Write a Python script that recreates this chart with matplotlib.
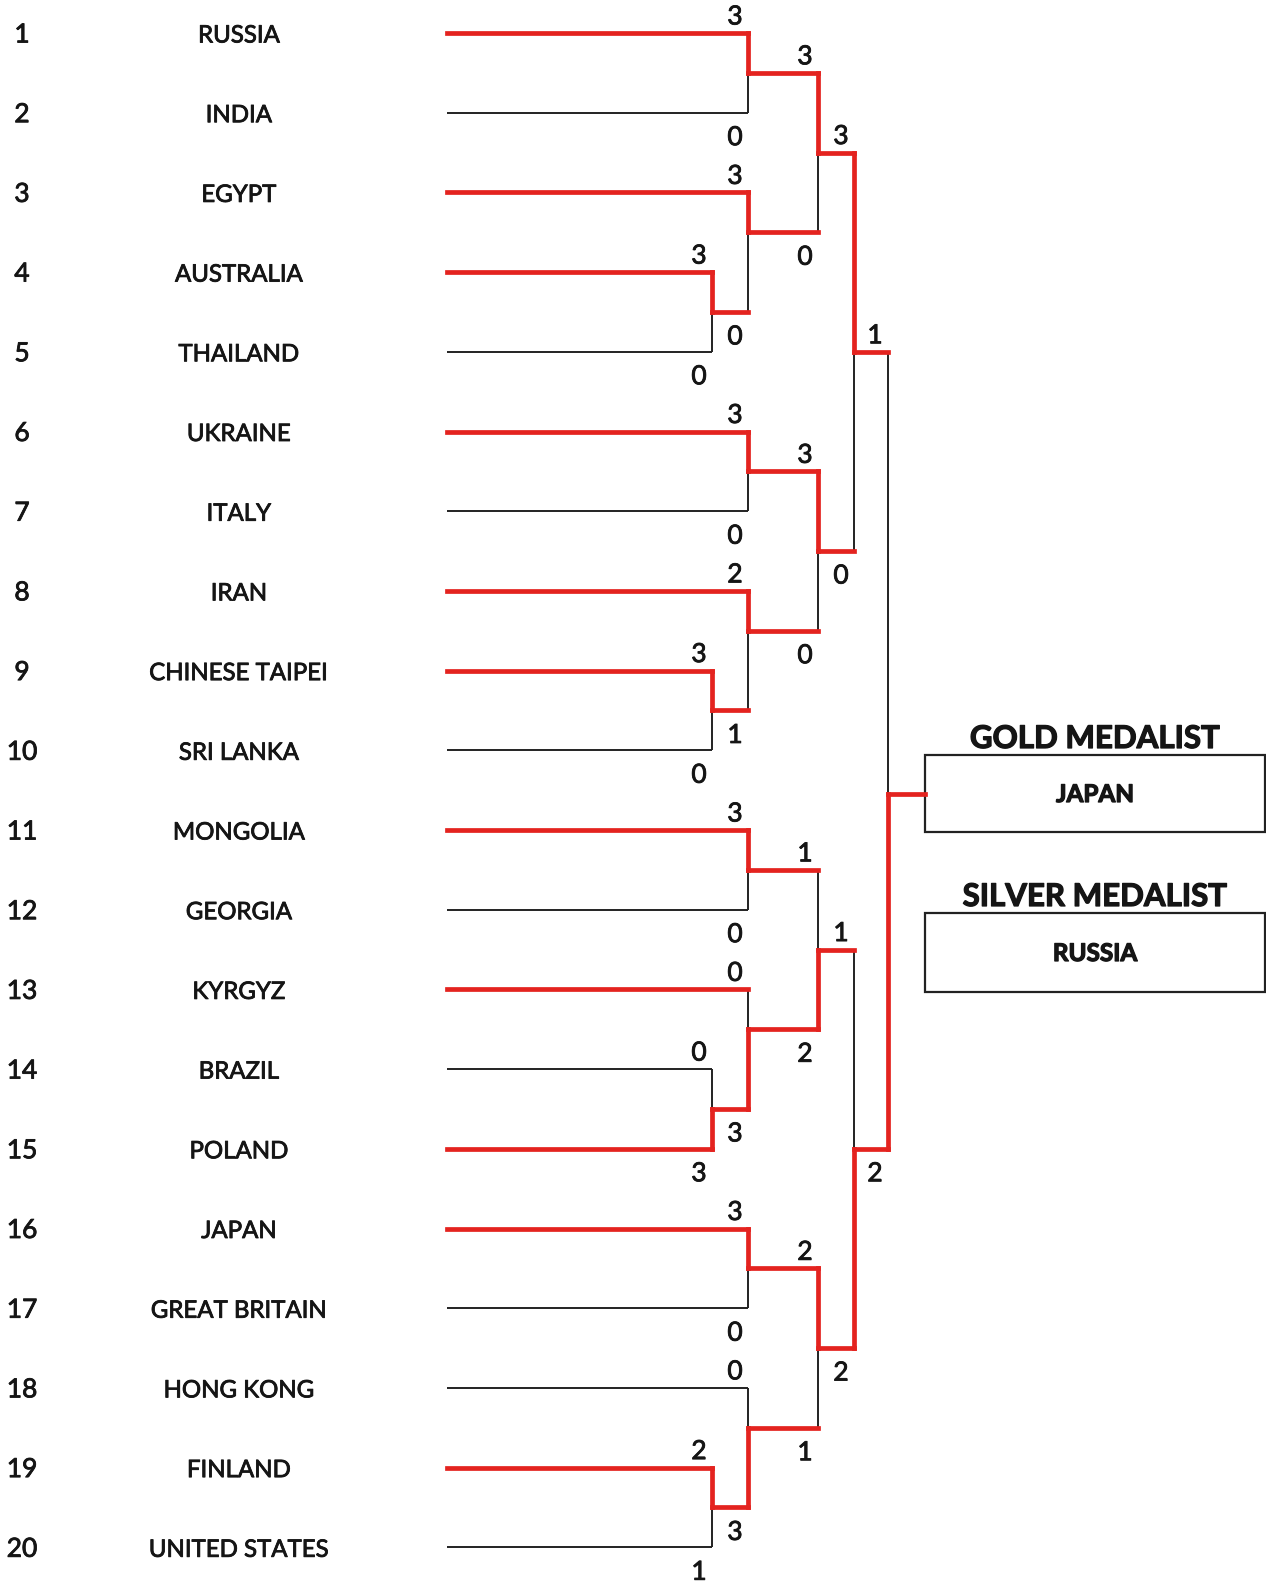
import matplotlib.pyplot as plt
import matplotlib.patheffects as pe

# bracket data
seeds = [1, 2, 3, 4, 5, 6, 7, 8, 9, 10, 11, 12, 13, 14, 15, 16, 17, 18, 19, 20]
teams = ["RUSSIA", "INDIA", "EGYPT", "AUSTRALIA", "THAILAND", "UKRAINE", "ITALY",
         "IRAN", "CHINESE TAIPEI", "SRI LANKA", "MONGOLIA", "GEORGIA", "KYRGYZ",
         "BRAZIL", "POLAND", "JAPAN", "GREAT BRITAIN", "HONG KONG", "FINLAND",
         "UNITED STATES"]

# matches: ints point at a seed, strings at an earlier match
match_ids = ["P1", "P2", "P3", "P4", "A", "B", "D", "E", "H", "I", "K", "L",
             "C", "F", "J", "M", "G", "N", "FINAL"]
match_round = [0, 0, 0, 0, 1, 1, 1, 1, 1, 1, 1, 1, 2, 2, 2, 2, 3, 3, 4]
match_top = [4, 9, 14, 19, 1, 3, 6, 8, 11, 13, 16, 18, "A", "D", "H", "K", "C", "J", "G"]
match_bottom = [5, 10, 15, 20, 2, "P1", 7, "P2", 12, "P3", 17, "P4", "B", "E", "I", "L", "F", "M", "N"]
score_top = [3, 3, 0, 2, 3, 3, 3, 2, 3, 0, 3, 0, 3, 3, 1, 2, 3, 1, 1]
score_bottom = [0, 0, 3, 1, 0, 0, 0, 1, 0, 3, 0, 3, 0, 0, 2, 1, 0, 2, 2]
extra_red = ["KYRGYZ"]  # drawn red in the original although it lost
gold = "JAPAN"
silver = "RUSSIA"

# layout (pixels)
W, H = 1266, 1582
row_y0, row_gap = 33, 79.7
x_num, x_name, x_line0 = 22, 239, 447
round_x = [712, 748, 818, 854, 888]
box_x0, box_x1 = 925, 1265
gold_box = (755, 832)
silver_box = (913, 992)
RED = "#e4231f"
INK = "#151515"
FONT = "Lato"
heavy = [pe.withStroke(linewidth=0.6, foreground=INK)]
heavier = [pe.withStroke(linewidth=0.9, foreground=INK)]

fig = plt.figure(figsize=(W / 100, H / 100), dpi=100)
ax = fig.add_axes([0, 0, 1, 1])
ax.set_xlim(0, W)
ax.set_ylim(H, 0)
ax.axis("off")


def seg(xs, ys, red):
    if red:
        ax.plot(xs, ys, color=RED, lw=3.4, solid_capstyle="projecting", zorder=3)
    else:
        ax.plot(xs, ys, color="#222222", lw=1.4, solid_capstyle="butt", zorder=2)


def label(x, y, s, size, weight="normal", fx=heavy):
    ax.text(x, y, s, ha="center", va="baseline", fontsize=size, family=FONT,
            fontweight=weight, color=INK, path_effects=fx)


# who won what
winner = {}
for mid, top, bot, st, sb in zip(match_ids, match_top, match_bottom, score_top, score_bottom):
    ref = top if st > sb else bot
    winner[mid] = winner[ref] if isinstance(ref, str) else ref
won_any = set(winner.values())

# team rows
pos = {}
for i, (s, name) in enumerate(zip(seeds, teams)):
    y = row_y0 + row_gap * i
    pos[s] = (x_line0, y)
    label(x_num, y + 9.5, str(s), 19)
    label(x_name, y + 9.5, name, 17.3)

# matches
for mid, rnd, top, bot, st, sb in zip(match_ids, match_round, match_top, match_bottom,
                                      score_top, score_bottom):
    xv = round_x[rnd]
    xt, yt = pos[top]
    xb, yb = pos[bot]
    if mid == "FINAL":
        yj = sum(gold_box) / 2
    elif isinstance(top, int) and isinstance(bot, str):
        yj = yt + row_gap / 2
    else:
        yj = (yt + yb) / 2
    for ref, x0, y in ((top, xt, yt), (bot, xb, yb)):
        if isinstance(ref, int):
            red = ref in won_any or teams[ref - 1] in extra_red
        else:
            red = True
        seg([x0, xv], [y, y], red)
    top_won = st > sb
    seg([xv, xv], [yt, yj], top_won)
    seg([xv, xv], [yj, yb], not top_won)
    label(xv - 13, yt - 8.5, str(st), 19)
    label(xv - 13, yb + 32.5, str(sb), 19)
    pos[mid] = (xv, yj)

# final line into the gold box
xf, yf = pos["FINAL"]
seg([xf, box_x0], [yf, yf], True)

# medal boxes
for (y0, y1), title, name in ((gold_box, "GOLD MEDALIST", gold),
                              (silver_box, "SILVER MEDALIST", silver)):
    ax.add_patch(plt.Rectangle((box_x0, y0), box_x1 - box_x0, y1 - y0, fill=False,
                               edgecolor="#222222", lw=1.6, zorder=2))
    xc = (box_x0 + box_x1) / 2
    label(xc, y0 - 7, title, 22.5, "bold", heavier)
    label(xc, (y0 + y1) / 2 + 8.5, name, 17.5, "bold", heavier)

fig.savefig("out.png", dpi=100)
